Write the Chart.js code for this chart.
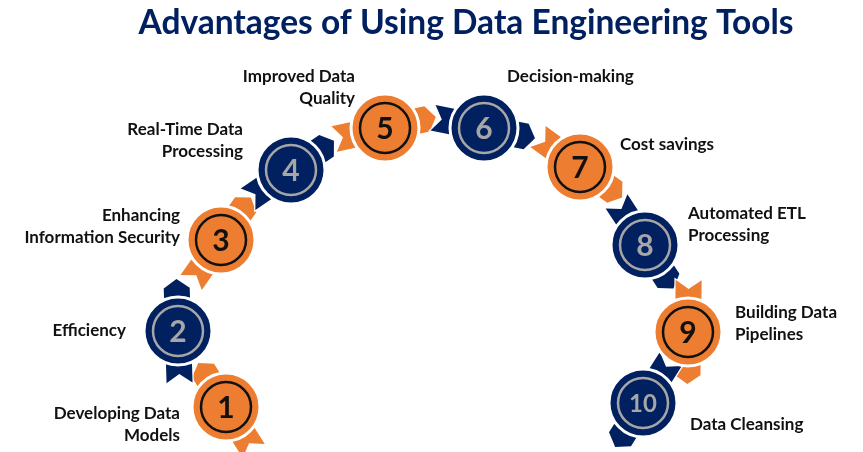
<!DOCTYPE html>
<html>
<head>
<meta charset="utf-8">
<script src="https://cdn.jsdelivr.net/npm/chart.js@4.4.1/dist/chart.umd.min.js"></script>
<style>
  html, body { margin: 0; padding: 0; background: #fff; }
  #wrap { width: 863px; height: 452px; }
</style>
</head>
<body>
<div id="wrap"><canvas id="steps"></canvas></div>
<script>
const chartTitle = "Advantages of Using Data Engineering Tools";
const stepNumbers = ["1", "2", "3", "4", "5", "6", "7", "8", "9", "10"];
const stepLabels = [
  ["Developing Data", "Models"],
  ["Efficiency"],
  ["Enhancing", "Information Security"],
  ["Real-Time Data", "Processing"],
  ["Improved Data", "Quality"],
  ["Decision-making"],
  ["Cost savings"],
  ["Automated ETL", "Processing"],
  ["Building Data", "Pipelines"],
  ["Data Cleansing"]
];
// circle centres along the arc (x to the right, y downwards)
const stepX = [226, 178, 221, 291, 385, 484, 580, 645, 688, 643];
const stepY = [407, 331, 240, 170, 128, 128, 167, 245, 332, 403];

const ORANGE = "#ED7D31";
const NAVY = "#002060";
const fills = stepNumbers.map((n, i) => (i % 2 === 0 ? ORANGE : NAVY));
const rings = stepNumbers.map((n, i) => (i % 2 === 0 ? "#111111" : "#A6A6A6"));

// where each caption sits, relative to its circle
const captionPos = [
  { dx: -46, dy: 18, align: "right" },
  { dx: -52, dy: 0, align: "right" },
  { dx: -41, dy: -13, align: "right" },
  { dx: -48, dy: -29, align: "right" },
  { dx: -30, dy: -40, align: "right" },
  { dx: 23, dy: -51, align: "left" },
  { dx: 40, dy: -22, align: "left" },
  { dx: 43, dy: -20, align: "left" },
  { dx: 47, dy: -8, align: "left" },
  { dx: 47, dy: 22, align: "left" }
];

const points = stepX.map((x, i) => ({ x: x, y: stepY[i] }));

// ribbons behind every circle, numbers / captions / title on top
const infographic = {
  id: "infographic",
  beforeDatasetsDraw(chart) {
    const ctx = chart.ctx;
    const pts = chart.getDatasetMeta(0).data;
    pts.forEach((p, i) => {
      const a = pts[Math.max(i - 1, 0)];
      const b = pts[Math.min(i + 1, pts.length - 1)];
      const ang = Math.atan2(b.y - a.y, b.x - a.x);
      const L = 52, w = 13, k = 9;
      ctx.save();
      ctx.translate(p.x, p.y);
      ctx.rotate(ang);
      ctx.beginPath();
      ctx.moveTo(-L, -w);
      ctx.lineTo(L - k, -w);
      ctx.lineTo(L, 0);
      ctx.lineTo(L - k, w);
      ctx.lineTo(-L, w);
      ctx.lineTo(-L + k, 0);
      ctx.closePath();
      ctx.fillStyle = fills[i];
      ctx.strokeStyle = "#ffffff";
      ctx.lineWidth = 2.5;
      ctx.stroke();
      ctx.fill();
      ctx.restore();
    });
  },
  afterDatasetsDraw(chart) {
    const ctx = chart.ctx;
    const pts = chart.getDatasetMeta(0).data;
    ctx.save();
    ctx.textAlign = "center";
    ctx.textBaseline = "middle";
    pts.forEach((p, i) => {
      const n = stepNumbers[i];
      ctx.font = (n.length > 1 ? "bold 24px" : "bold 30px") + " Lato, sans-serif";
      ctx.fillStyle = i % 2 === 0 ? "#111111" : "#A6A6A6";
      ctx.fillText(n, p.x, p.y + 1);
    });
    ctx.font = "bold 17px Lato, sans-serif";
    ctx.fillStyle = "#111111";
    pts.forEach((p, i) => {
      const c = captionPos[i];
      const lines = stepLabels[i];
      const lh = 22;
      const top = p.y + c.dy - ((lines.length - 1) * lh) / 2;
      ctx.textAlign = c.align;
      lines.forEach((t, j) => ctx.fillText(t, p.x + c.dx, top + j * lh));
    });
    ctx.textAlign = "center";
    ctx.font = "bold 33.5px Lato, sans-serif";
    ctx.fillStyle = NAVY;
    ctx.fillText(chartTitle, 466, 23);
    ctx.restore();
  }
};

new Chart(document.getElementById("steps").getContext("2d"), {
  type: "scatter",
  data: {
    datasets: [
      {
        label: "Steps",
        data: points,
        order: 2,
        pointRadius: 34,
        pointBackgroundColor: fills,
        pointBorderColor: "#ffffff",
        pointBorderWidth: 3
      },
      {
        label: "Rings",
        data: points,
        order: 1,
        pointRadius: 25,
        pointBackgroundColor: "rgba(0,0,0,0)",
        pointBorderColor: rings,
        pointBorderWidth: 2.5
      }
    ]
  },
  options: {
    responsive: true,
    maintainAspectRatio: false,
    animation: false,
    events: [],
    layout: { padding: 0, autoPadding: false },
    scales: {
      x: { type: "linear", min: 0, max: 863, display: false },
      y: { type: "linear", min: 0, max: 452, reverse: true, display: false }
    },
    plugins: {
      legend: { display: false },
      tooltip: { enabled: false },
      title: { display: false }
    }
  },
  plugins: [infographic]
});
</script>
</body>
</html>
